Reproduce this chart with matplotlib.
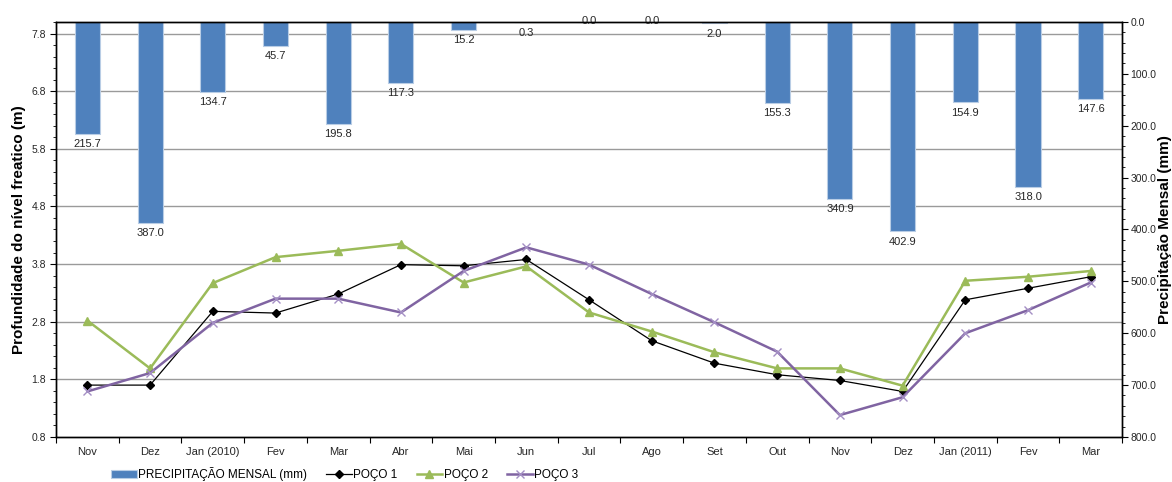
import matplotlib.pyplot as plt
from matplotlib.ticker import MultipleLocator, FormatStrFormatter, FixedLocator, NullFormatter, FixedFormatter
from matplotlib.transforms import blended_transform_factory

# ----------------------------------------------------------------------------

meses = ["Nov", "Dez", "Jan (2010)", "Fev", "Mar", "Abr", "Mai", "Jun", "Jul",
         "Ago", "Set", "Out", "Nov", "Dez", "Jan (2011)", "Fev", "Mar"]

precipitacao = [215.7, 387.0, 134.7, 45.7, 195.8, 117.3, 15.2, 0.3, 0.0,
                0.0, 2.0, 155.3, 340.9, 402.9, 154.9, 318.0, 147.6]

poco1 = [1.70, 1.70, 2.98, 2.95, 3.28, 3.79, 3.77, 3.88, 3.18,
         2.47, 2.08, 1.88, 1.78, 1.59, 3.18, 3.38, 3.58]
poco2 = [2.82, 1.99, 3.47, 3.92, 4.03, 4.15, 3.48, 3.76, 2.96,
         2.63, 2.27, 1.99, 1.99, 1.69, 3.51, 3.58, 3.68]
poco3 = [1.59, 1.91, 2.78, 3.20, 3.20, 2.96, 3.68, 4.09, 3.79,
         3.28, 2.79, 2.28, 1.18, 1.49, 2.60, 3.00, 3.48]

nivel_ticks = [0.8, 1.8, 2.8, 3.8, 4.8, 5.8, 6.8, 7.8]

# ----------------------------------------------------------------------------

plt.rcParams["font.family"] = ["Liberation Sans", "DejaVu Sans"]

BAR_COLOR = "#4F81BD"
GREEN = "#9BBB59"
PURPLE = "#8064A2"
TXT = "#262626"

fig = plt.figure(figsize=(11.72, 4.82), dpi=100)
ax = fig.add_axes([0.0478, 0.0934, 0.9096, 0.8610])
ax2 = ax.twinx()
ax.set_zorder(ax2.get_zorder() + 1)
ax.patch.set_visible(False)

xx = list(range(len(meses)))

# Bars (right axis, inverted)
ax2.bar(xx, precipitacao, width=0.4, color=BAR_COLOR, edgecolor="#B9CDE5",
        linewidth=0.8, zorder=2, label="PRECIPITAÇÃO MENSAL (mm)")
ax2.set_ylim(800, 0)
ax2.yaxis.set_major_locator(MultipleLocator(100))
ax2.yaxis.set_minor_locator(MultipleLocator(20))
ax2.yaxis.set_major_formatter(FormatStrFormatter("%.1f"))
for i, v in enumerate(precipitacao):
    if v > 0:
        ax2.annotate("%.1f" % v, (i, v), xytext=(0, -4), textcoords="offset points",
                     ha="center", va="top", fontsize=8, color=TXT)
    else:
        ax2.annotate("%.1f" % v, (i, v), xytext=(0, 4), textcoords="offset points",
                     ha="center", va="top", fontsize=8, color=TXT)

# Gridlines at left-axis ticks, drawn behind the bars
trans = blended_transform_factory(ax2.transAxes, ax.transData)
for t in nivel_ticks[1:]:
    ax2.plot([0, 1], [t, t], transform=trans, color="#9a9a9a", lw=1.0, zorder=0.5)

# Lines (left axis)
l1, = ax.plot(xx, poco1, color="black", lw=0.9, marker="D", ms=4.5, label="POÇO 1")
l2, = ax.plot(xx, poco2, color=GREEN, lw=1.8, marker="^", ms=5.5, label="POÇO 2")
l3, = ax.plot(xx, poco3, color=PURPLE, lw=1.8, marker="x", ms=5.5, mec="#A48FC4",
              mew=1.0, label="POÇO 3")
ax.set_ylim(0.8, 8.0)
ax.set_xlim(-0.5, len(meses) - 0.5)
ax.yaxis.set_major_locator(FixedLocator(nivel_ticks))
ax.yaxis.set_minor_locator(MultipleLocator(0.2))
ax.yaxis.set_major_formatter(FormatStrFormatter("%.1f"))

# x ticks: marks at boundaries, labels at centres
ax.xaxis.set_major_locator(FixedLocator([i - 0.5 for i in range(len(meses) + 1)]))
ax.xaxis.set_major_formatter(NullFormatter())
ax.xaxis.set_minor_locator(FixedLocator(xx))
ax.xaxis.set_minor_formatter(FixedFormatter(meses))
ax.tick_params(axis="x", which="major", length=4, direction="out")
ax.tick_params(axis="x", which="minor", length=0, pad=7, labelsize=8, labelcolor=TXT)
ax.tick_params(axis="y", which="major", length=4, pad=3, labelsize=7.5, labelcolor=TXT)
ax.tick_params(axis="y", which="minor", length=2)
ax2.tick_params(axis="y", which="major", length=4, pad=2, labelsize=7.5, labelcolor=TXT)
ax2.tick_params(axis="y", which="minor", length=2)

for a in (ax, ax2):
    for s in a.spines.values():
        s.set_color("black")
        s.set_linewidth(1.0)

ax.set_ylabel("Profundidade do nível freatico (m)", fontsize=11, fontweight="bold", labelpad=4)
ax2.set_ylabel("Precipitação Mensal (mm)", fontsize=11, fontweight="bold", labelpad=1)

handles = [ax2.containers[0], l1, l2, l3]
labels = ["PRECIPITAÇÃO MENSAL (mm)", "POÇO 1", "POÇO 2", "POÇO 3"]
fig.legend(handles, labels, loc="center", bbox_to_anchor=(0.294, 0.017), ncol=4,
           frameon=False, fontsize=8.5, handlelength=2.2, handletextpad=0.1,
           columnspacing=1.6)

fig.savefig("out.png", dpi=100)
